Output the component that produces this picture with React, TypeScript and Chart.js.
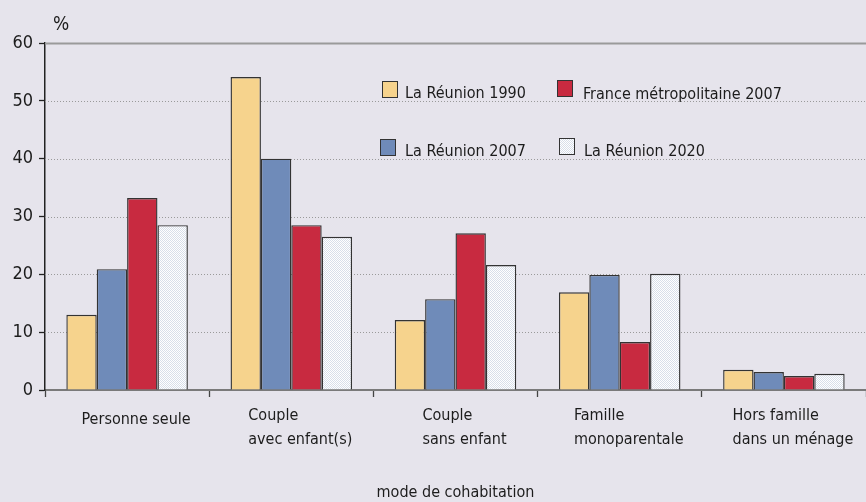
import React, { useEffect, useRef } from "react";
import { Chart, registerables } from "chart.js";

Chart.register(...registerables);

const FONT = "'Liberation Sans Narrow', 'DejaVu Sans Condensed', 'Roboto Condensed', Roboto, sans-serif";

const categories: string[][] = [
  ["Personne seule"],
  ["Couple", "avec enfant(s)"],
  ["Couple", "sans enfant"],
  ["Famille", "monoparentale"],
  ["Hors famille", "dans un ménage"],
];

const seriesLabels = ["La Réunion 1990", "La Réunion 2007", "France métropolitaine 2007", "La Réunion 2020"];
const reunion1990 = [13.0, 54.1, 12.1, 16.9, 3.5];
const reunion2007 = [20.9, 40.0, 15.7, 19.9, 3.1];
const france2007 = [33.2, 28.5, 27.1, 8.3, 2.4];
const reunion2020 = [28.5, 26.5, 21.6, 20.1, 2.8];

const yTicks = [0, 10, 20, 30, 40, 50, 60];
const yUnit = "%";
const xTitle = "mode de cohabitation";

const YELLOW = "#f6d38d";
const BLUE = "#6f8bb9";
const RED = "#c82a40";
const BG = "#e6e4ec";
const TEXT = "#1c1c1c";

function makePattern(): CanvasPattern | string {
  const c = document.createElement("canvas");
  c.width = 2;
  c.height = 2;
  const g = c.getContext("2d");
  if (!g) return "#f2f4f8";
  g.fillStyle = "#ffffff";
  g.fillRect(0, 0, 2, 2);
  g.fillStyle = "#d8dfea";
  g.fillRect(0, 0, 1, 1);
  g.fillRect(1, 1, 1, 1);
  const p = g.createPattern(c, "repeat");
  return p || "#f2f4f8";
}

const gridPlugin = {
  id: "customGrid",
  beforeDatasetsDraw(chart: any) {
    const { ctx, chartArea, scales } = chart;
    const y = scales.y;
    ctx.save();
    yTicks.forEach((v) => {
      const py = Math.round(y.getPixelForValue(v)) + 0.5;
      if (v === 0) return;
      ctx.beginPath();
      if (v === 60) {
        ctx.setLineDash([]);
        ctx.strokeStyle = "#9a9a9a";
        ctx.lineWidth = 2;
      } else {
        ctx.setLineDash([1, 2]);
        ctx.strokeStyle = "#9a9a9a";
        ctx.lineWidth = 1;
      }
      ctx.moveTo(chartArea.left, py);
      ctx.lineTo(chartArea.right, py);
      ctx.stroke();
    });
    ctx.restore();
  },
  afterDraw(chart: any) {
    const { ctx, scales } = chart;
    const x = scales.x;
    ctx.save();
    ctx.font = `16px ${FONT}`;
    ctx.fillStyle = TEXT;
    ctx.textBaseline = "middle";
    ctx.textAlign = "left";
    (chart.data.labels as string[][]).forEach((lines, i) => {
      const cx = x.getPixelForValue(i);
      const maxW = Math.max(...lines.map((l) => ctx.measureText(l).width));
      const left = cx - maxW / 2 + 9;
      if (lines.length === 1) {
        ctx.fillText(lines[0], left, 420);
      } else {
        ctx.fillText(lines[0], left, 416);
        ctx.fillText(lines[1], left, 440);
      }
    });
    ctx.restore();
  },
};

export default function App() {
  const ref = useRef<HTMLCanvasElement | null>(null);

  useEffect(() => {
    document.body.style.margin = "0";
    document.body.style.background = BG;
    if (!ref.current) return;
    const pattern = makePattern();
    const colors = [YELLOW, BLUE, RED, pattern];
    const values = [reunion1990, reunion2007, france2007, reunion2020];
    const chart = new Chart(ref.current, {
      type: "bar",
      data: {
        labels: categories,
        datasets: seriesLabels.map((label, i) => ({
          label,
          data: values[i],
          backgroundColor: colors[i] as any,
          borderColor: "#333333",
          borderWidth: 1.4,
          categoryPercentage: 0.74,
          barPercentage: 1,
        })),
      },
      options: {
        responsive: false,
        animation: false,
        layout: { padding: { top: 43, right: 0, left: 0, bottom: 0 } },
        plugins: {
          legend: { display: false },
          tooltip: { enabled: false },
        },
        scales: {
          x: {
            afterFit: (s: any) => {
              s.height = 112;
            },
            grid: {
              display: true,
              offset: true,
              drawOnChartArea: false,
              drawTicks: true,
              tickLength: 7,
              tickColor: "#444",
              tickWidth: 1.3,
            },
            border: { display: true, color: "#7a7a7a", width: 2 },
            ticks: { display: false },
            title: {
              display: true,
              text: xTitle,
              color: TEXT,
              font: { family: FONT, size: 16 },
              padding: { top: 0, bottom: 0 },
            },
          },
          y: {
            min: 0,
            max: 60,
            afterFit: (s: any) => {
              s.width = 45;
            },
            afterBuildTicks: (s: any) => {
              s.ticks = yTicks.map((v) => ({ value: v }));
            },
            grid: {
              display: true,
              drawOnChartArea: false,
              drawTicks: true,
              tickLength: 6,
              tickColor: "#222",
              tickWidth: 1.3,
            },
            border: { display: true, color: "#222", width: 1.5 },
            ticks: {
              color: TEXT,
              padding: 6,
              font: { family: FONT, size: 18 },
            },
          },
        },
      },
      plugins: [gridPlugin],
    });
    return () => chart.destroy();
  }, []);

  const box = (bg: string, extra: React.CSSProperties = {}): React.CSSProperties => ({
    position: "absolute",
    width: 14,
    height: 15,
    border: "1.5px solid #333",
    background: bg,
    ...extra,
  });
  const txt = (left: number, top: number, size = 16): React.CSSProperties => ({
    position: "absolute",
    left,
    top,
    fontFamily: FONT,
    fontSize: size,
    color: TEXT,
    whiteSpace: "nowrap",
    lineHeight: "20px",
  });
  const patternCss =
    "repeating-conic-gradient(#d8dfea 0% 25%, #ffffff 0% 50%) 0 0 / 2px 2px";

  return (
    <div style={{ position: "relative", width: 866, height: 502, background: BG, overflow: "hidden" }}>
      <canvas ref={ref} width={866} height={502} style={{ display: "block" }} />
      <div style={{ ...txt(53, 13, 19), fontWeight: 500 }}>{yUnit}</div>
      <div style={box(YELLOW, { left: 382, top: 81 })} />
      <div style={txt(405, 83)}>{seriesLabels[0]}</div>
      <div style={box(RED, { left: 557, top: 80 })} />
      <div style={txt(583, 84)}>{seriesLabels[2]}</div>
      <div style={box(BLUE, { left: 380, top: 139 })} />
      <div style={txt(405, 141)}>{seriesLabels[1]}</div>
      <div style={box("#fff", { left: 559, top: 138, background: patternCss })} />
      <div style={txt(584, 141)}>{seriesLabels[3]}</div>
    </div>
  );
}
